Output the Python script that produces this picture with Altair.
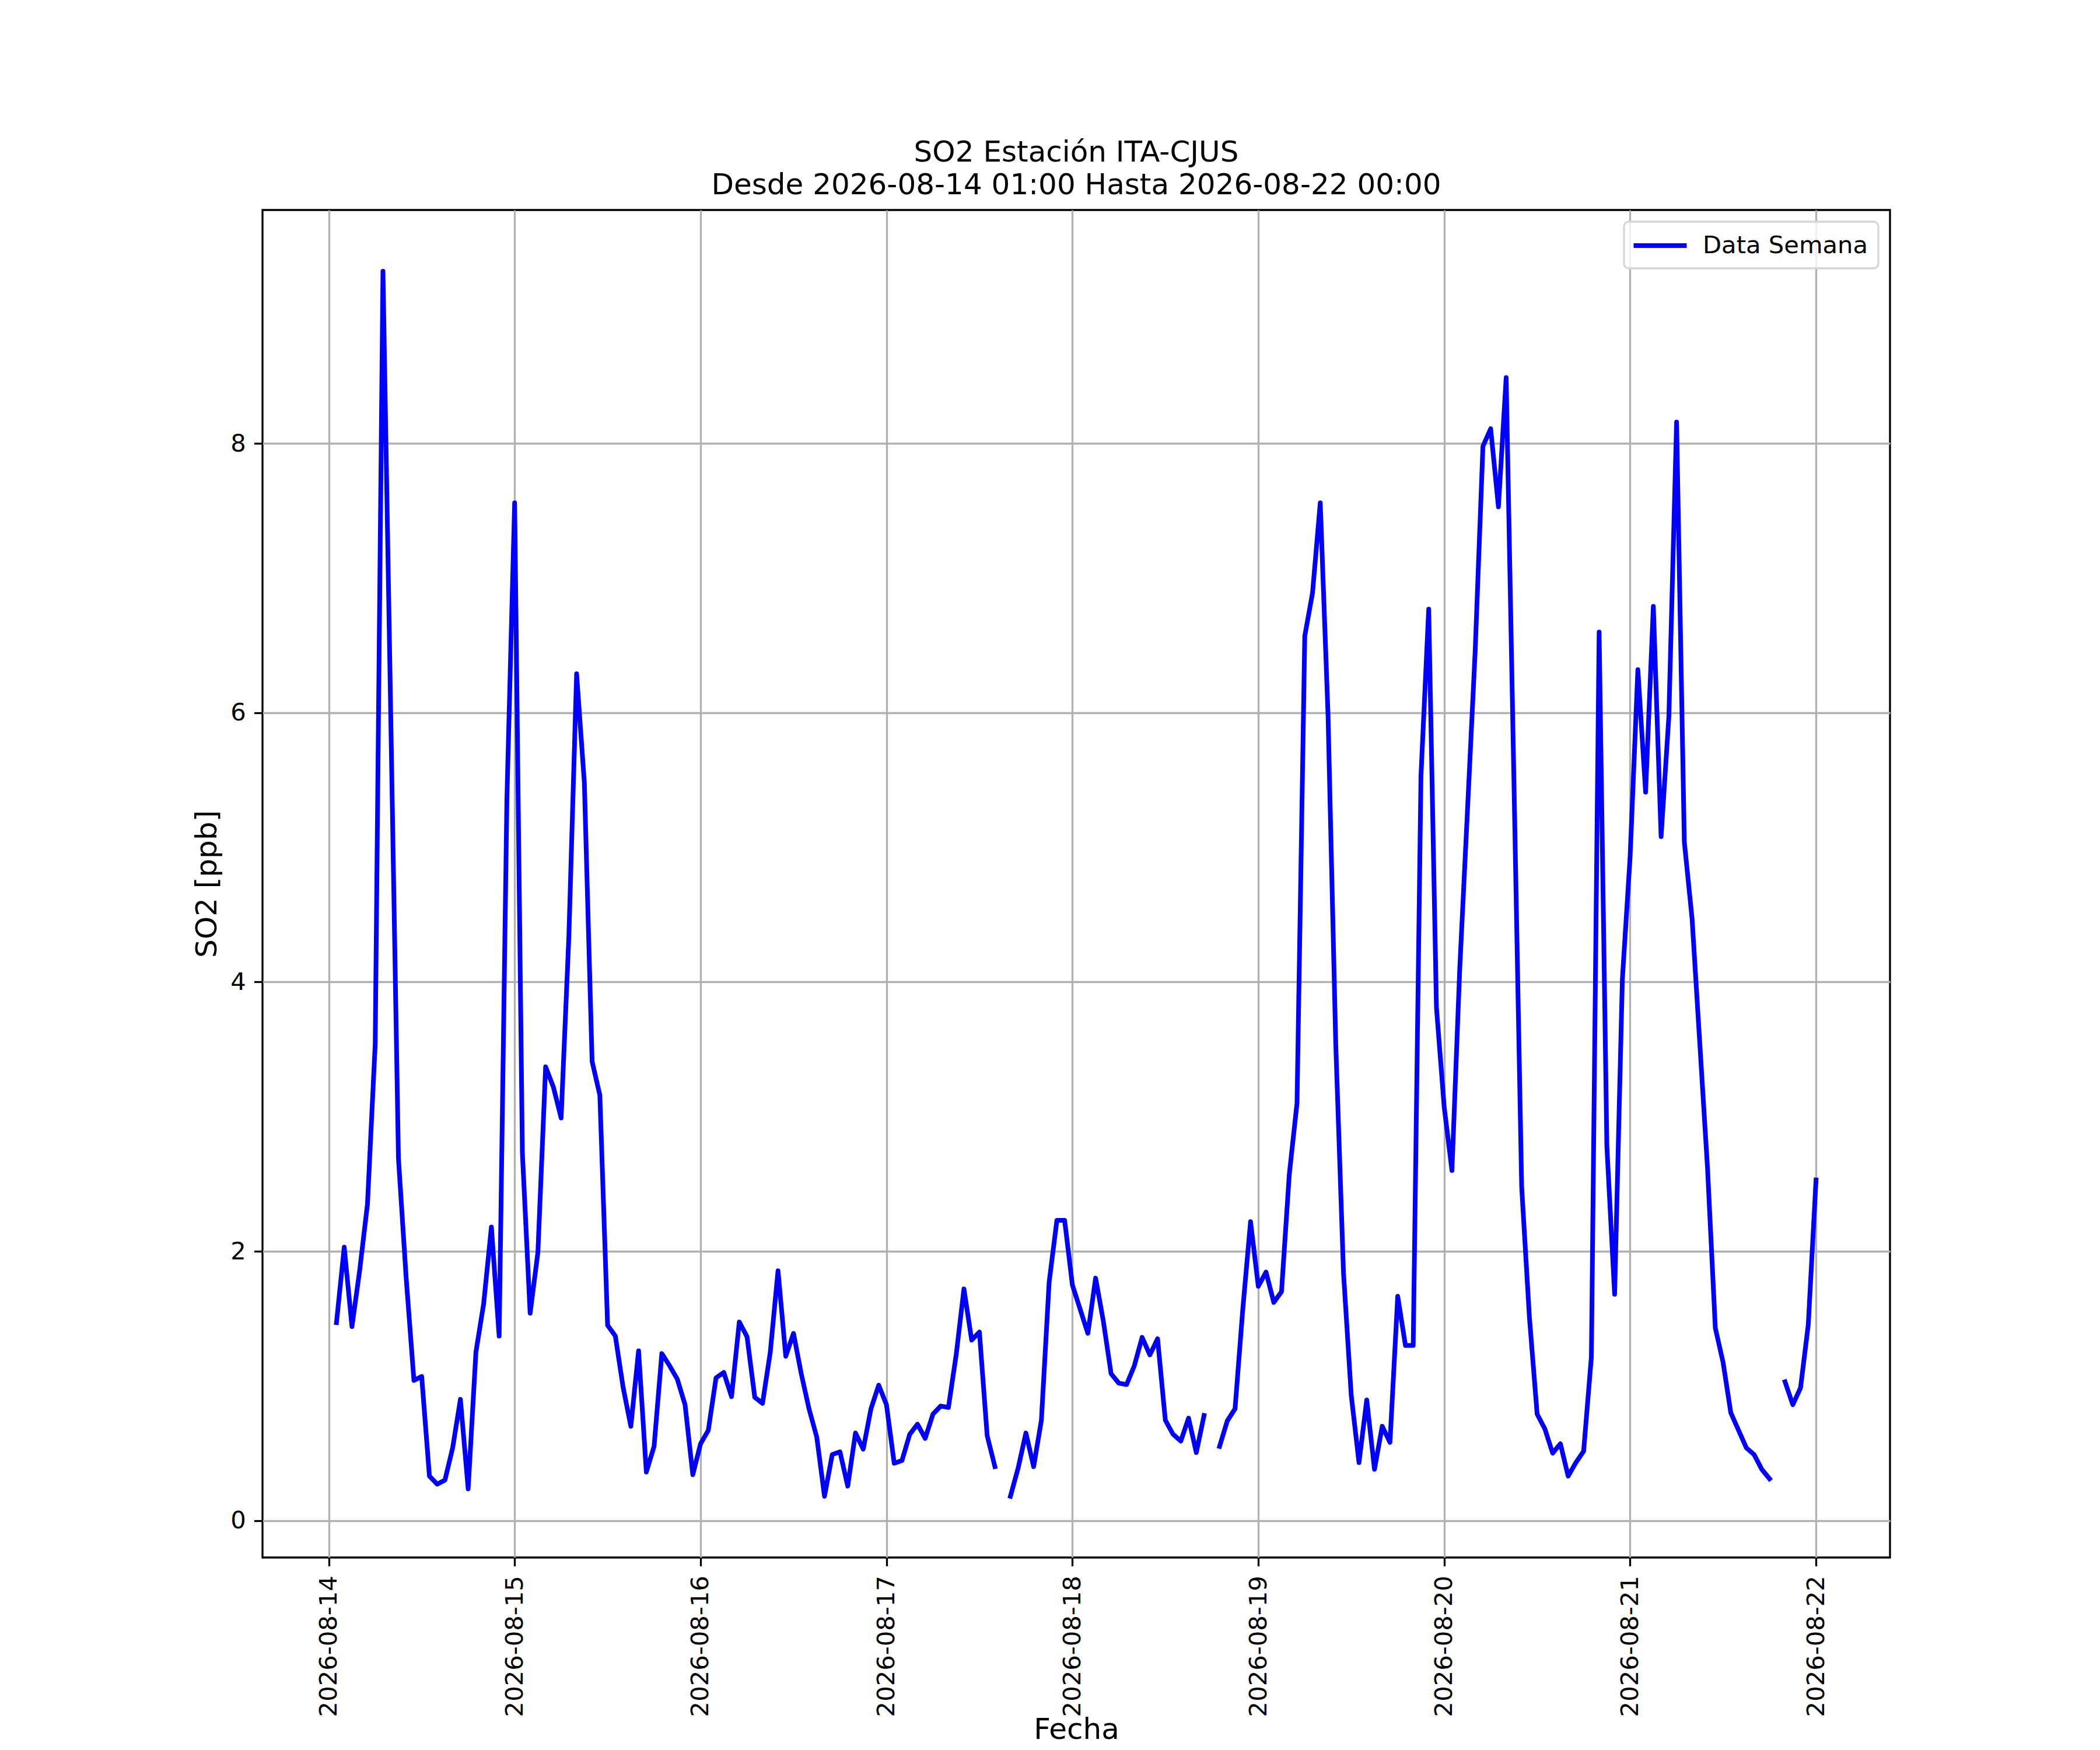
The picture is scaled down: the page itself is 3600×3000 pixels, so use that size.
import altair as alt
import pandas as pd

# Hourly SO2 values (ppb), 2026-08-14 01:00 .. 2026-08-22 00:00 (None = missing)
so2 = [
    1.47, 2.03, 1.44, 1.86, 2.35, 3.54, 9.28, 6.00, 2.69, 1.80, 1.04, 1.07,
    0.33, 0.27, 0.30, 0.54, 0.90, 0.235, 1.25, 1.61, 2.18, 1.37, 5.36, 7.56,
    2.73, 1.54, 1.99, 3.37, 3.22, 2.99, 4.34, 6.29, 5.48, 3.41, 3.16, 1.45,
    1.37, 0.99, 0.70, 1.26, 0.36, 0.55, 1.24, 1.15, 1.05, 0.86, 0.34, 0.57,
    0.67, 1.06, 1.10, 0.92, 1.475, 1.365, 0.915, 0.87, 1.25, 1.855, 1.22, 1.39,
    1.09, 0.83, 0.62, 0.18, 0.49, 0.51, 0.255, 0.65, 0.53, 0.83, 1.005, 0.86,
    0.425, 0.445, 0.64, 0.715, 0.61, 0.79, 0.85, 0.84, 1.23, 1.72, 1.34, 1.40,
    0.63, 0.40, None, 0.18, 0.39, 0.65, 0.40, 0.745, 1.77, 2.23, 2.23, 1.75,
    1.57, 1.39, 1.80, 1.48, 1.09, 1.02, 1.01, 1.15, 1.36, 1.23, 1.35, 0.745,
    0.64, 0.59, 0.76, 0.505, 0.78, None, 0.55, 0.74, 0.83, 1.57, 2.22, 1.74,
    1.845, 1.62, 1.70, 2.57, 3.10, 6.57, 6.89, 7.56, 5.99, 3.54, 1.84, 0.93,
    0.43, 0.895, 0.38, 0.70, 0.58, 1.665, 1.30, 1.30, 5.53, 6.77, 3.81, 3.07,
    2.60, 4.09, 5.27, 6.46, 7.98, 8.11, 7.53, 8.49, 5.50, 2.48, 1.51, 0.79,
    0.68, 0.50, 0.57, 0.33, 0.43, 0.515, 1.215, 6.60, 2.78, 1.68, 4.02, 4.93,
    6.32, 5.41, 6.79, 5.08, 5.97, 8.16, 5.04, 4.47, 3.54, 2.61, 1.43, 1.175,
    0.80, 0.67, 0.54, 0.49, 0.38, 0.31, None, 1.03, 0.86, 0.985, 1.455, 2.53,
]
fechas = pd.date_range("2026-08-14 01:00", "2026-08-22 00:00", freq="h")
tick_days = [14, 15, 16, 17, 18, 19, 20, 21, 22]
y_ticks = [0, 2, 4, 6, 8]
serie = "Data Semana"
titulo = ["SO2 Estación ITA-CJUS", "Desde 2026-08-14 01:00 Hasta 2026-08-22 00:00"]

# split into contiguous segments at missing hours
rows = []
seg = 0
for f, v in zip(fechas, so2):
    if v is None:
        seg += 1
        continue
    rows.append({"fecha": f.strftime("%Y-%m-%dT%H:%M:%S"), "so2": v, "seg": seg, "serie": serie})
df = pd.DataFrame(rows)

FONT = "DejaVu Sans"

chart = alt.Chart(df).mark_line(
    strokeWidth=8, strokeJoin="round", strokeCap="square"
).encode(
    x=alt.X(
        "fecha:T",
        title="Fecha",
        scale=alt.Scale(domain=[
            alt.DateTime(year=2026, month=8, date=13, hours=15, minutes=27),
            alt.DateTime(year=2026, month=8, date=22, hours=9, minutes=33),
        ]),
        axis=alt.Axis(
            values=[alt.DateTime(year=2026, month=8, date=d) for d in tick_days],
            format="%Y-%m-%d",
            labelAngle=270,
            labelPadding=16,
            labelLimit=600,
            titleY=270,
            titleBaseline="top",
        ),
    ),
    y=alt.Y(
        "so2:Q",
        title="SO2 [ppb]",
        scale=alt.Scale(domain=[-0.275, 9.735], nice=False, zero=False),
        axis=alt.Axis(values=y_ticks, labelPadding=14, titlePadding=14),
    ),
    color=alt.Color(
        "serie:N",
        scale=alt.Scale(domain=[serie], range=["#0000ff"]),
        legend=alt.Legend(
            title=None,
            orient="top-right",
            offset=20,
            symbolType="M-2.3,0H2.3",
            symbolStrokeWidth=8,
            symbolSize=1566,
            symbolOffset=21,
            labelFontSize=41.7,
            labelFont=FONT,
            labelColor="black",
            labelOffset=49,
            labelLimit=800,
            padding=17,
            strokeColor="#d6d6d6",
            fillColor="rgba(255,255,255,0.8)",
            cornerRadius=8,
        ),
    ),
    detail="seg:N",
).properties(
    width=2790,
    height=2310,
    title=alt.TitleParams(text=titulo),
    autosize=alt.AutoSizeParams(type="none"),
    padding={"left": 442, "top": 352, "right": 352, "bottom": 330},
).configure_view(
    stroke="black", strokeWidth=3.3
).configure_axis(
    labelFont=FONT,
    labelFontSize=41.7,
    labelColor="black",
    titleFont=FONT,
    titleFontSize=50,
    titleFontWeight="normal",
    titleColor="black",
    tickColor="black",
    tickWidth=3.3,
    tickSize=14.6,
    domain=False,
    grid=True,
    gridColor="#b0b0b0",
    gridWidth=3.3,
).configure_title(
    font=FONT,
    fontSize=50,
    fontWeight="normal",
    color="black",
    anchor="middle",
    frame="group",
    baseline="bottom",
    lineHeight=56,
    offset=17,
).configure_legend(
    strokeWidth=3.3
)

chart.save("out.html", embed_options={"renderer": "svg", "actions": False})
